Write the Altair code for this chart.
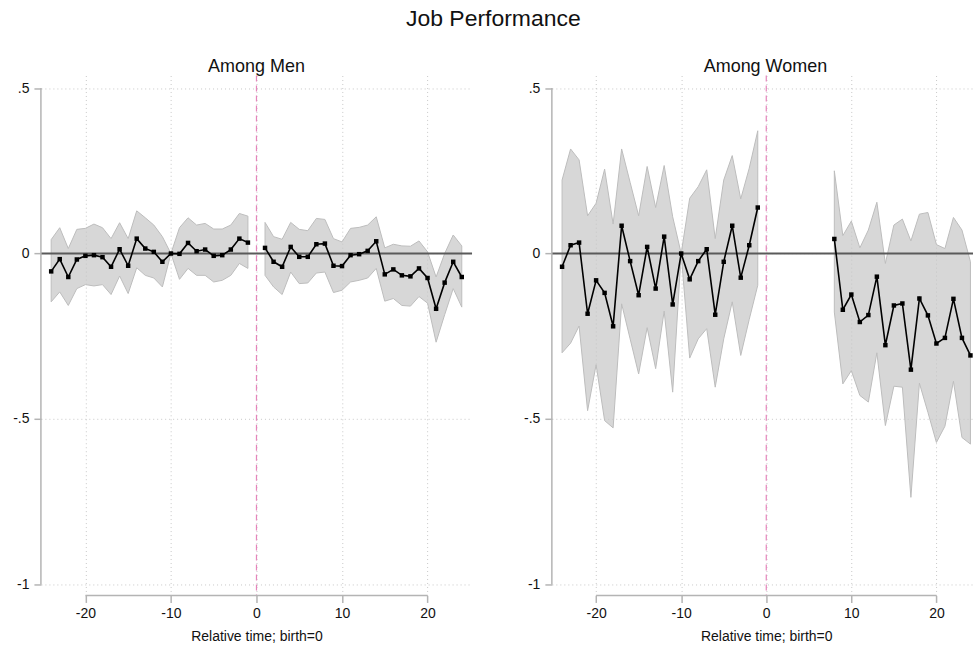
import altair as alt
import pandas as pd

# Event-study coefficients with 95% confidence bands, by relative time to birth
t_pre = list(range(-24, 0))
t_post_men = list(range(1, 25))
t_post_women = list(range(8, 25))

men_b_pre = [-0.054, -0.017, -0.071, -0.018, -0.007, -0.005, -0.011, -0.040, 0.013, -0.037,
             0.045, 0.015, 0.005, -0.025, 0.000, -0.001, 0.032, 0.007, 0.012, -0.007,
             -0.005, 0.012, 0.045, 0.033]
men_hi_pre = [0.042, 0.078, 0.015, 0.073, 0.076, 0.089, 0.078, 0.045, 0.093, 0.045,
              0.129, 0.108, 0.086, 0.051, 0.000, 0.078, 0.108, 0.086, 0.091, 0.074,
              0.074, 0.086, 0.121, 0.113]
men_lo_pre = [-0.146, -0.116, -0.157, -0.106, -0.094, -0.098, -0.094, -0.124, -0.068, -0.121,
              -0.043, -0.066, -0.074, -0.101, 0.000, -0.078, -0.045, -0.066, -0.066, -0.086,
              -0.081, -0.066, -0.030, -0.045]

men_b_post = [0.017, -0.025, -0.040, 0.020, -0.010, -0.010, 0.028, 0.030, -0.037, -0.038,
              -0.005, -0.002, 0.008, 0.037, -0.063, -0.048, -0.066, -0.069, -0.045, -0.074,
              -0.167, -0.088, -0.025, -0.071]
men_hi_post = [0.094, 0.051, 0.043, 0.094, 0.073, 0.069, 0.106, 0.103, 0.045, 0.035,
               0.076, 0.079, 0.086, 0.111, 0.017, 0.028, 0.023, 0.022, 0.038, 0.005,
               -0.071, 0.000, 0.056, 0.023]
men_lo_post = [-0.066, -0.101, -0.124, -0.056, -0.091, -0.089, -0.059, -0.056, -0.118, -0.111,
               -0.086, -0.081, -0.074, -0.045, -0.144, -0.136, -0.157, -0.159, -0.130, -0.150,
               -0.268, -0.185, -0.106, -0.162]

women_b_pre = [-0.040, 0.025, 0.033, -0.182, -0.081, -0.119, -0.220, 0.084, -0.023, -0.126,
               0.020, -0.106, 0.051, -0.154, 0.000, -0.078, -0.023, 0.013, -0.185, -0.025,
               0.084, -0.073, 0.025, 0.139]
women_hi_pre = [0.222, 0.316, 0.283, 0.114, 0.152, 0.255, 0.089, 0.316, 0.215, 0.114,
                0.263, 0.139, 0.266, 0.111, 0.000, 0.167, 0.202, 0.253, 0.045, 0.222,
                0.296, 0.165, 0.258, 0.371]
women_lo_pre = [-0.300, -0.271, -0.219, -0.475, -0.336, -0.505, -0.527, -0.152, -0.258, -0.364,
                -0.224, -0.348, -0.174, -0.419, 0.000, -0.316, -0.258, -0.227, -0.404, -0.258,
                -0.146, -0.308, -0.199, -0.096]

women_b_post = [0.044, -0.170, -0.124, -0.207, -0.186, -0.070, -0.277, -0.157, -0.151, -0.351,
                -0.136, -0.187, -0.272, -0.255, -0.137, -0.255, -0.308]
women_hi_post = [0.250, 0.054, 0.098, 0.017, 0.071, 0.155, -0.030, 0.086, 0.104, 0.038,
                 0.119, 0.124, 0.027, 0.015, 0.109, 0.071, -0.025]
women_lo_post = [-0.177, -0.394, -0.354, -0.429, -0.449, -0.300, -0.520, -0.401, -0.404, -0.737,
                 -0.392, -0.480, -0.571, -0.522, -0.386, -0.556, -0.576]

x_ticks = [-20, -10, 0, 10, 20]
y_ticks = [0.5, 0, -0.5, -1]

FONT = "Liberation Sans"
H = 521
Y_DOMAIN = [-1.0334, 0.538]
AXIS_GRAY = "#b4b4b4"
GRID_GRAY = "#c8c8c8"


def frame(t_a, b_a, lo_a, hi_a, t_b, b_b, lo_b, hi_b):
    rows = []
    for seg, (ts, bs, los, his) in enumerate([(t_a, b_a, lo_a, hi_a), (t_b, b_b, lo_b, hi_b)]):
        for t, b, lo, hi in zip(ts, bs, los, his):
            rows.append({"t": t, "b": b, "lo": lo, "hi": hi, "seg": seg})
    return pd.DataFrame(rows)


def panel(df, title, width, x_domain, center_px, title_dx):
    xscale = alt.Scale(domain=x_domain, nice=False, zero=False)
    yscale = alt.Scale(domain=Y_DOMAIN, nice=False, zero=False)
    xaxis = alt.Axis(
        values=x_ticks, title="Relative time; birth=0", domain=False,
        grid=True, gridColor=GRID_GRAY, gridDash=[1, 3], gridWidth=1,
        ticks=True, tickSize=7, tickColor=AXIS_GRAY, tickWidth=1.5,
        labelFontSize=14, labelColor="#111111", labelPadding=4, labelFont=FONT,
        labelExpr="datum.value < 0 ? '-' + abs(datum.value) : '' + datum.value",
        titleFontSize=14, titleFontWeight="normal", titleColor="#111111", titleFont=FONT,
        titlePadding=9, titleX=center_px,
    )
    yaxis = alt.Axis(
        values=y_ticks, title=None, domain=False,
        grid=True, gridColor=GRID_GRAY, gridDash=[1, 3], gridWidth=1,
        ticks=True, tickSize=7, tickColor=AXIS_GRAY, tickWidth=1.5,
        labelFontSize=14, labelColor="#111111", labelPadding=5, labelFont=FONT,
        labelExpr="datum.value == 0.5 ? '.5' : datum.value == 0 ? '0' : datum.value == -0.5 ? '-.5' : '-1'",
    )
    x_enc = alt.X("t:Q", scale=xscale, axis=xaxis)
    base = alt.Chart(df)
    one = alt.Chart(pd.DataFrame({"k": [0]}))

    band = base.mark_area(
        color="#c4c4c4", fillOpacity=0.68, stroke="#bdbdbd", strokeWidth=1
    ).encode(
        x=x_enc,
        y=alt.Y("lo:Q", scale=yscale, axis=yaxis),
        y2="hi:Q",
        detail="seg:N",
    )
    zero = one.mark_rule(color="#5a5a5a", strokeWidth=2).encode(y=alt.datum(0))
    birth = one.mark_rule(color="#e585bb", strokeWidth=1.2, strokeDash=[6, 4]).encode(
        x=alt.datum(0)
    )
    y_line = one.mark_rule(color=AXIS_GRAY, strokeWidth=1.5).encode(
        x=alt.value(0), y=alt.datum(0.5), y2=alt.datum(-1)
    )
    x_line = one.mark_rule(color=AXIS_GRAY, strokeWidth=1.5).encode(
        y=alt.value(H), x=alt.datum(-20), x2=alt.datum(20)
    )
    line = base.mark_line(color="black", strokeWidth=1.6).encode(
        x=x_enc, y=alt.Y("b:Q", scale=yscale, axis=yaxis), detail="seg:N"
    )
    pts = base.mark_square(color="black", size=20, opacity=1).encode(
        x=x_enc, y=alt.Y("b:Q", scale=yscale, axis=yaxis)
    )
    return alt.layer(band, zero, birth, y_line, x_line, line, pts).properties(
        width=width, height=H,
        title=alt.TitleParams(title, fontSize=18, fontWeight="normal", font=FONT,
                              color="#111111", anchor="middle", offset=-1, dx=title_dx),
    )


men = frame(t_pre, men_b_pre, men_lo_pre, men_hi_pre,
            t_post_men, men_b_post, men_lo_post, men_hi_post)
women = frame(t_pre, women_b_pre, women_lo_pre, women_hi_pre,
              t_post_women, women_b_post, women_lo_post, women_hi_post)

left = panel(men, "Among Men", 432, [-25.2, 25.2], 216, 0)
right = panel(women, "Among Women", 422, [-25.2, 24.3], 214.8, 3)

chart = alt.hconcat(left, right, spacing=50).properties(
    title=alt.TitleParams("Job Performance", fontSize=23, fontWeight="normal", font=FONT,
                          color="#111111", anchor="middle", offset=27),
    padding={"left": 12, "top": 7, "right": 0, "bottom": 0},
    background="white",
).configure_view(strokeWidth=0, stroke="transparent")

chart.save("out.html", embed_options={"renderer": "svg", "actions": False})
